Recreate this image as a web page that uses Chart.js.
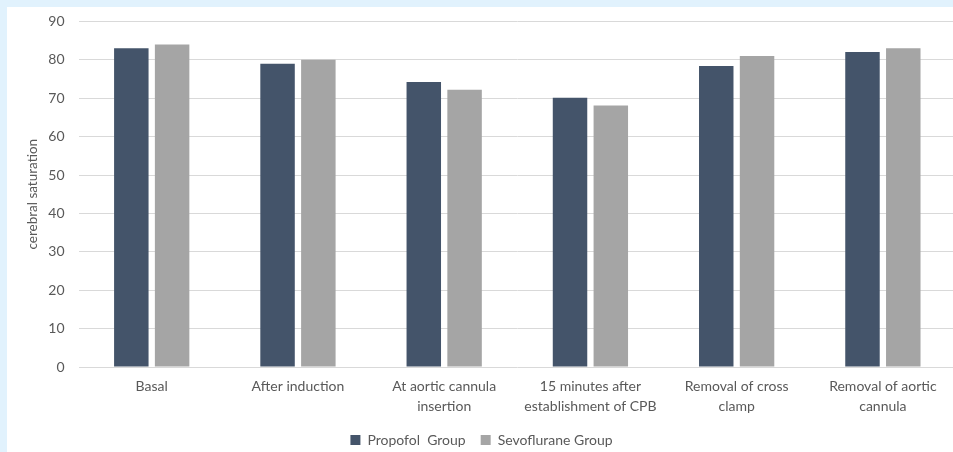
<!DOCTYPE html>
<html>
<head>
<meta charset="utf-8">
<script src="https://cdn.jsdelivr.net/npm/chart.js@4.4.1/dist/chart.umd.min.js"></script>
<style>
  html, body { margin: 0; padding: 0; overflow: hidden; background: #e1f2fd; }
  #panel { position: absolute; left: 7px; top: 7px; width: 953px; height: 445px; background: #ffffff; overflow: hidden; }
  #inner { position: absolute; left: 0; top: -8px; width: 953px; height: 453px; }
</style>
</head>
<body>
<div id="panel"><div id="inner"><canvas id="main-chart"></canvas></div></div>
<script>
const categories = [
  'Basal',
  'After induction',
  ['At aortic cannula', 'insertion'],
  ['15 minutes after', 'establishment of CPB'],
  ['Removal of cross', 'clamp'],
  ['Removal of aortic', 'cannula'],
];
const propofolValues = [83, 79, 74.2, 70.1, 78.4, 82];
const sevofluraneValues = [84, 80, 72.2, 68.1, 81, 83];
const yTicks = [0, 10, 20, 30, 40, 50, 60, 70, 80, 90];

const textColor = '#595959';
const fontFamily = 'Lato, "Open Sans", sans-serif';

let mainChart;

document.addEventListener('DOMContentLoaded', function () {
  const ctx = document.getElementById('main-chart').getContext('2d');
  mainChart = new Chart(ctx, {
    type: 'bar',
    data: {
      labels: categories,
      datasets: [
        {
          label: 'Propofol  Group',
          data: propofolValues,
          backgroundColor: '#44546a',
          categoryPercentage: 0.558,
          barPercentage: 0.845,
        },
        {
          label: 'Sevoflurane Group',
          data: sevofluraneValues,
          backgroundColor: '#a5a5a5',
          categoryPercentage: 0.558,
          barPercentage: 0.845,
        },
      ],
    },
    options: {
      responsive: true,
      maintainAspectRatio: false,
      animation: false,
      layout: { padding: { top: 0, left: 0, right: 4, bottom: -5 } },
      scales: {
        x: {
          grid: { display: false, drawTicks: false },
          border: { display: false },
          ticks: {
            color: textColor,
            font: { family: fontFamily, size: 14, lineHeight: 1.4 },
            padding: 10,
            maxRotation: 0,
            autoSkip: false,
          },
          afterFit: (scale) => { scale.height = 51; },
        },
        y: {
          min: 0,
          max: 90,
          afterBuildTicks: (scale) => {
            scale.ticks = yTicks.map((v) => ({ value: v }));
          },
          grid: { color: '#d9d9d9', drawTicks: false },
          border: { display: false },
          ticks: {
            color: textColor,
            font: { family: fontFamily, size: 14 },
            padding: 14,
          },
          title: {
            display: true,
            text: 'cerebral saturation',
            color: textColor,
            font: { family: fontFamily, size: 13.5 },
            padding: { top: 18, bottom: 0 },
          },
          afterFit: (scale) => { scale.width = 71.6; },
        },
      },
      plugins: {
        legend: {
          position: 'bottom',
          labels: {
            color: textColor,
            font: { family: fontFamily, size: 14 },
            boxWidth: 10,
            boxHeight: 10,
            padding: 15,
          },
        },
        tooltip: { enabled: false },
      },
    },
  });
});
</script>
</body>
</html>
